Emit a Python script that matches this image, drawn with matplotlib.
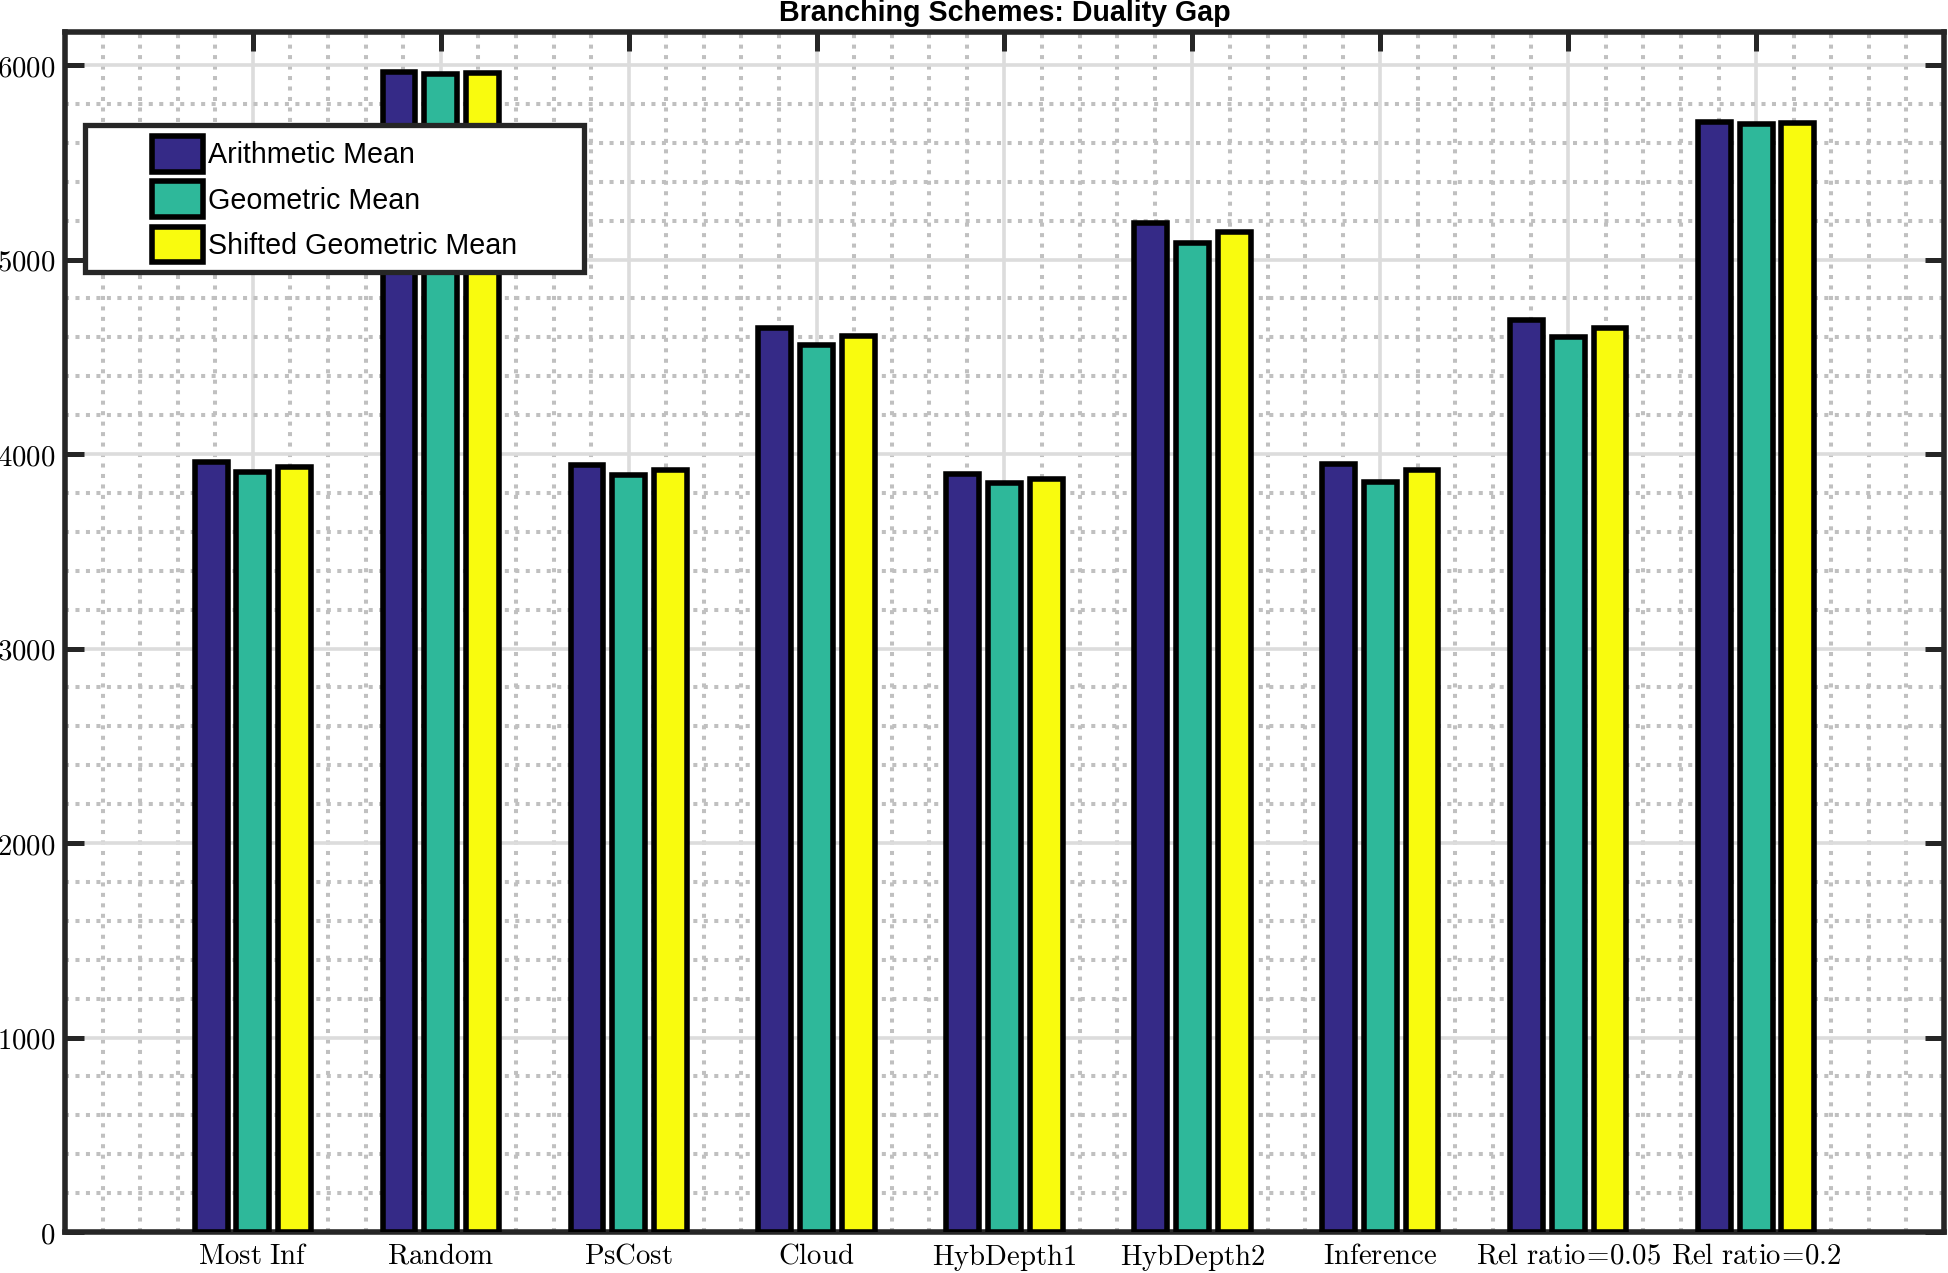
import numpy as np
import matplotlib
matplotlib.use("Agg")
import matplotlib.pyplot as plt
from matplotlib.ticker import MultipleLocator, FixedLocator
from matplotlib.patches import Rectangle

plt.rcParams['font.family'] = ['Liberation Sans', 'DejaVu Sans']
plt.rcParams['mathtext.fontset'] = 'cm'

# ---- data ----
categories = ["Most Inf", "Random", "PsCost", "Cloud", "HybDepth1",
              "HybDepth2", "Inference", "Rel ratio=0.05", "Rel ratio=0.2"]
series_names = ["Arithmetic Mean", "Geometric Mean", "Shifted Geometric Mean"]
arithmetic = [3960, 5964, 3943, 4648, 3895, 5190, 3949, 4691, 5707]
geometric = [3907, 5954, 3892, 4560, 3851, 5085, 3858, 4602, 5697]
shifted = [3933, 5959, 3919, 4607, 3874, 5141, 3919, 4648, 5702]
yticks = [0, 1000, 2000, 3000, 4000, 5000, 6000]
title = "Branching Schemes: Duality Gap"

colors = ["#352A87", "#2EB89A", "#F9FB0E"]
dark = "#262626"

W, H = 1949, 1273
fig = plt.figure(figsize=(W / 100, H / 100), dpi=100)
ax = fig.add_axes([65 / W, 1 - 1232 / H, (1944 - 65) / W, 1200 / H])

x = np.arange(1, len(categories) + 1)
series = [arithmetic, geometric, shifted]
offset = 0.2222
bw = 0.175
bars = []
for i, (vals, c, name) in enumerate(zip(series, colors, series_names)):
    b = ax.bar(x + (i - 1) * offset, vals, width=bw, color=c, edgecolor="black",
               linewidth=4, label=name, zorder=3)
    bars.append(b)

ax.set_xlim(0, len(categories) + 1)
ax.set_ylim(0, 6170)

ax.xaxis.set_major_locator(FixedLocator(x))
ax.yaxis.set_major_locator(FixedLocator(yticks))
ax.xaxis.set_minor_locator(MultipleLocator(0.2))
ax.yaxis.set_minor_locator(MultipleLocator(200))

def tex(s):
    return r"$\mathrm{" + s.replace(" ", r"\ ").replace("=", r"\!=\!") + "}$"

ax.set_xticklabels([tex(c) for c in categories], fontsize=20.7)
ax.set_yticklabels([tex(str(v)) for v in yticks], fontsize=20.7)

ax.set_axisbelow(True)
ax.grid(which="minor", linestyle=(0, (1, 1.6)), linewidth=2.9, color="#C0C0C0")
ax.grid(which="major", linestyle="-", linewidth=2.6, color="#DCDCDC")

ax.tick_params(which="major", direction="in", length=14, width=3.6, color=dark,
               top=True, right=True, pad=7)
ax.tick_params(which="minor", length=0)
for s in ax.spines.values():
    s.set_linewidth(4)
    s.set_color(dark)

ax.set_title(title, fontsize=20.6, fontweight="bold", pad=8)

# legend frame
x0 = (85 - 65) / 1879
x1 = (584 - 65) / 1879
y1 = (1232 - 125) / 1200
y0 = (1232 - 272) / 1200
ax.add_patch(Rectangle((x0, y0), x1 - x0, y1 - y0, transform=ax.transAxes,
                       facecolor="white", edgecolor=dark, linewidth=3.8, zorder=4))
leg = ax.legend(handles=bars, loc="upper left",
                bbox_to_anchor=((152 - 65) / 1879, (1232 - 136) / 1200),
                frameon=False, fontsize=20.6, borderpad=0, borderaxespad=0,
                handlelength=1.8, handleheight=1.55, handletextpad=0.15,
                labelspacing=0.33)
leg.set_zorder(5)

fig.savefig("out.png", dpi=100)
